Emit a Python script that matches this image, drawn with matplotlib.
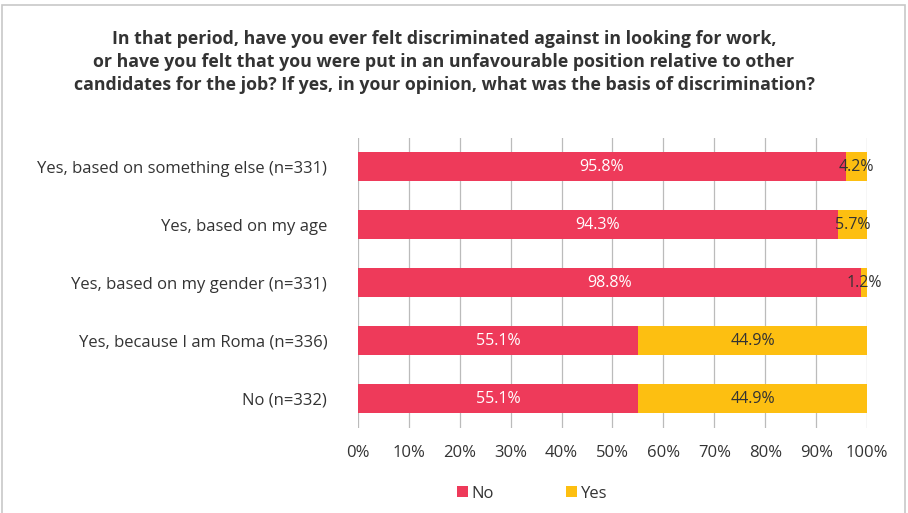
import numpy as np
import matplotlib.pyplot as plt
from matplotlib.patches import Rectangle

plt.rcParams['font.family'] = ['Open Sans', 'DejaVu Sans']

categories = ['Yes, based on something else (n=331)',
              'Yes, based on my age',
              'Yes, based on my gender (n=331)',
              'Yes, because I am Roma (n=336)',
              'No (n=332)']
no_vals = [95.8, 94.3, 98.8, 55.1, 55.1]
yes_vals = [4.2, 5.7, 1.2, 44.9, 44.9]

red = '#EE3A5A'
yellow = '#FDBF11'
txt = '#333333'

fig = plt.figure(figsize=(9.08, 5.13), dpi=100)
ax = fig.add_axes([0.394, 0.166, 0.561, 0.565])

y = np.arange(len(categories))
no = np.array(no_vals)
yes = np.array(yes_vals)
ax.barh(y, no, height=0.5, color=red, label='No', zorder=3)
ax.barh(y, yes, left=no, height=0.5, color=yellow, label='Yes', zorder=3)

for i in range(len(categories)):
    ax.text(no[i] / 2, y[i], f'{no[i]:.1f}%', ha='center', va='center',
            color='white', fontsize=11.5, zorder=4)
    ax.text(no[i] + yes[i] / 2, y[i], f'{yes[i]:.1f}%', ha='center',
            va='center', color=txt, fontsize=11.5, zorder=4)

ax.set_xlim(0, 100)
ax.set_ylim(len(categories) - 0.5, -0.5)
ax.set_xticks(np.arange(0, 101, 10))
ax.set_xticklabels([f'{v}%' for v in range(0, 101, 10)], color=txt, fontsize=12)
ax.set_yticks(y)
ax.set_yticklabels(categories, color=txt, fontsize=12)
ax.tick_params(axis='y', length=0, pad=22)
ax.tick_params(axis='x', length=0, pad=12)
ax.grid(axis='x', color='#BBBBBB', linewidth=0.9, zorder=0)
for s in ax.spines.values():
    s.set_visible(False)

fig.text(0.489, 0.879,
         'In that period, have you ever felt discriminated against in looking for work,\n'
         'or have you felt that you were put in an unfavourable position relative to other\n'
         'candidates for the job? If yes, in your opinion, what was the basis of discrimination?',
         ha='center', va='center', fontsize=12.8, fontweight='bold', color=txt,
         linespacing=1.35)

leg = fig.legend(loc='center', bbox_to_anchor=(0.586, 0.038), ncol=2, frameon=False,
                 fontsize=12, handlelength=0.65, handleheight=0.65, columnspacing=4.3,
                 handletextpad=0.25)
for t in leg.get_texts():
    t.set_color(txt)

fig.patches.append(Rectangle((0.002, -0.01), 0.995, 1.0, transform=fig.transFigure,
                             fill=False, edgecolor='#C8C8C8', linewidth=1.2))

fig.savefig('out.png', dpi=100)
